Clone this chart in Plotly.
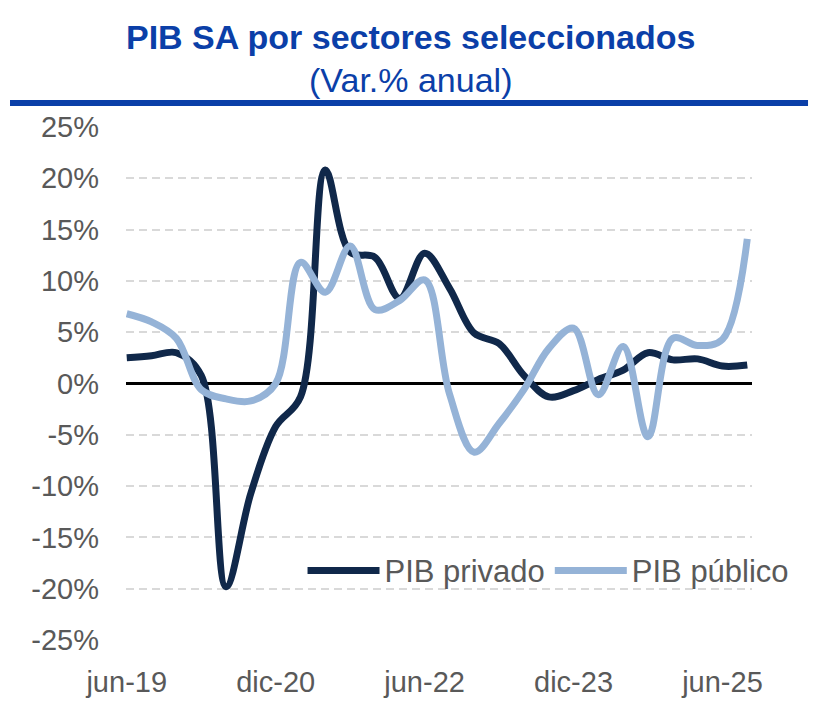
import plotly.graph_objects as go

quarters = ["jun-19", "sep-19", "dic-19", "mar-20", "jun-20", "sep-20", "dic-20",
            "mar-21", "jun-21", "sep-21", "dic-21", "mar-22", "jun-22", "sep-22",
            "dic-22", "mar-23", "jun-23", "sep-23", "dic-23", "mar-24", "jun-24",
            "sep-24", "dic-24", "mar-25", "jun-25", "sep-25"]

pib_privado = [2.5, 2.7, 3.0, 0.8, -19.8, -10.7, -4.2, -1.3, 20.8, 12.8, 12.3, 8.3, 12.7,
               9.3, 4.9, 3.9, 0.8, -1.3, -0.7, 0.4, 1.3, 3.0, 2.3, 2.4, 1.7, 1.8]
pib_publico = [6.8, 6.0, 4.4, -0.6, -1.5, -1.7, 0.0, 11.8, 8.9, 13.4, 7.2, 8.1, 10.1,
               -1.0, -6.7, -3.9, -0.6, 3.4, 5.4, -1.1, 3.6, -5.2, 4.4, 3.7, 4.3, 14.1]

x_ticks = ["jun-19", "dic-20", "jun-22", "dic-23", "jun-25"]
y_ticks = [-25, -20, -15, -10, -5, 0, 5, 10, 15, 20, 25]
y_ticktext = [f"{v}%" for v in y_ticks]

FONT = "Liberation Sans, Arial, sans-serif"
GRAY = "#595959"
BLUE = "#0B3FA8"

fig = go.Figure()
fig.add_trace(go.Scatter(x=quarters, y=pib_privado, name="PIB privado", mode="lines",
                         line=dict(color="#10284A", width=7, shape="spline", smoothing=1)))
fig.add_trace(go.Scatter(x=quarters, y=pib_publico, name="PIB público", mode="lines",
                         line=dict(color="#95B3D7", width=7, shape="spline", smoothing=1)))

fig.update_layout(
    width=828, height=702,
    margin=dict(l=126, r=76, t=127, b=62, autoexpand=False),
    paper_bgcolor="white", plot_bgcolor="white",
    font=dict(family=FONT, size=29, color=GRAY),
    showlegend=True,
    legend=dict(orientation="h", x=0.282, y=0.135, xanchor="left", yanchor="middle",
                bgcolor="rgba(0,0,0,0)", font=dict(size=31, color=GRAY),
                itemwidth=72, traceorder="normal"),
    xaxis=dict(type="category", categoryorder="array", categoryarray=quarters,
               range=[-0.03, 25.19], tickmode="array", tickvals=x_ticks, ticktext=x_ticks,
               showgrid=False, zeroline=False, showline=False, ticks="", automargin=False,
               ticklabelstandoff=22, tickfont=dict(size=29, color=GRAY)),
    yaxis=dict(range=[-25, 25], tickmode="array", tickvals=y_ticks, ticktext=y_ticktext,
               showgrid=True, gridcolor="#D9D9D9", gridwidth=2, griddash="8px,5px",
               zeroline=True, zerolinecolor="#000000", zerolinewidth=2.5, automargin=False,
               showline=False, ticks="", ticklabelstandoff=26,
               tickfont=dict(size=29, color=GRAY)),
    annotations=[
        dict(text="<b>PIB SA por sectores seleccionados</b>", xref="paper", yref="paper",
             x=0.4537, y=1.175, xanchor="center", yanchor="middle", showarrow=False,
             font=dict(family=FONT, size=34, color=BLUE)),
        dict(text="(Var.% anual)", xref="paper", yref="paper",
             x=0.4537, y=1.0915, xanchor="center", yanchor="middle", showarrow=False,
             font=dict(family=FONT, size=34, color=BLUE)),
    ],
    shapes=[
        dict(type="rect", xref="paper", yref="paper", x0=-0.1853, x1=1.0895,
             y0=1.041, y1=1.0527, fillcolor=BLUE, line=dict(width=0)),
    ],
)

fig.write_html("out.html")
